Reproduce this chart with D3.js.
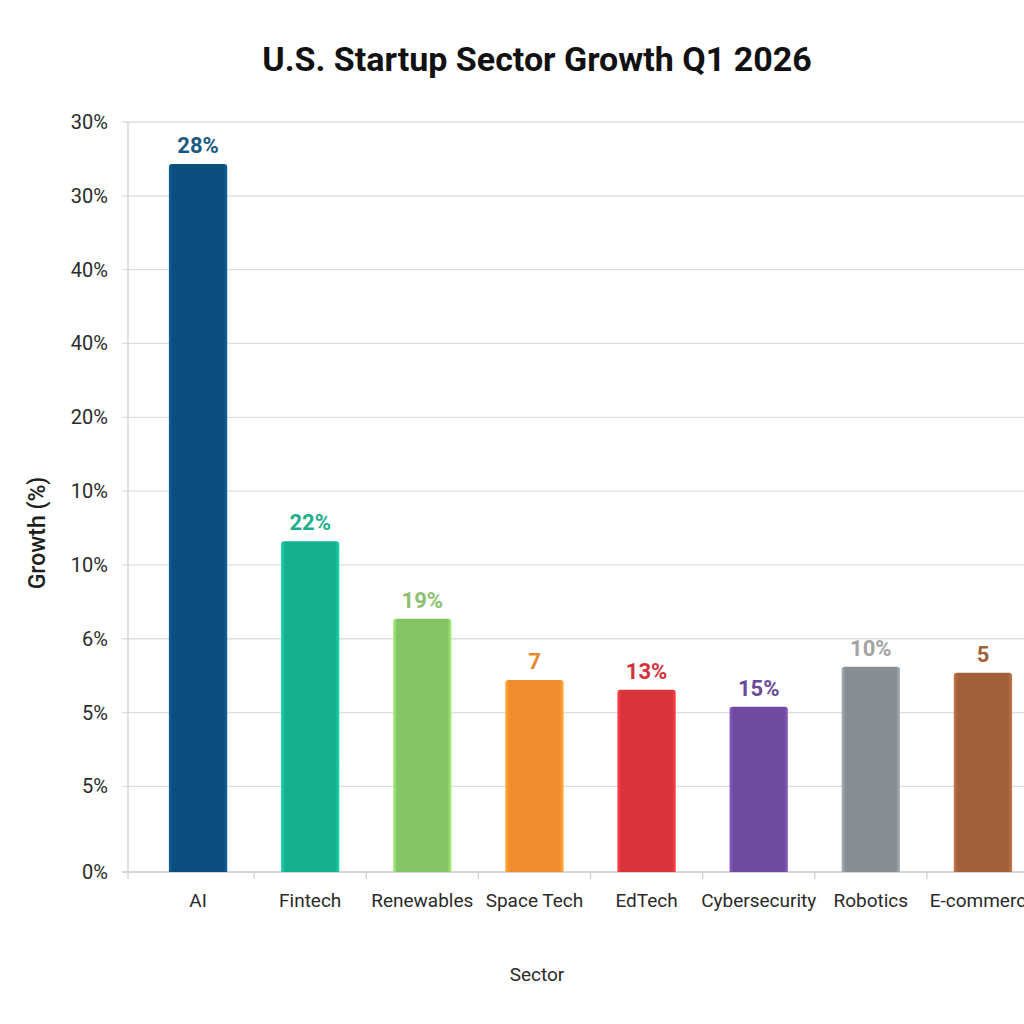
<!DOCTYPE html>
<html>
<head>
<meta charset="utf-8">
<script src="https://d3js.org/d3.v7.min.js"></script>
<style>
    html, body { margin: 0; padding: 0; background: #fff; }
    svg { display: block; font-family: Roboto, "Noto Sans", sans-serif; }
</style>
</head>
<body>
<svg width="1024" height="1024"></svg>
<script>
    // sectors and bar heights (in grid steps, as drawn)
    const sectors = ["AI", "Fintech", "Renewables", "Space Tech", "EdTech", "Cybersecurity", "Robotics", "E-commerce"];
    const heights = [9.59, 4.48, 3.43, 2.60, 2.47, 2.24, 2.78, 2.70];
    const barLabels = ["28%", "22%", "19%", "7", "13%", "15%", "10%", "5"];
    const barColors = ["#0a4f7d", "#14b08f", "#84c464", "#f08c2e", "#d9343a", "#6f4a9e", "#868e94", "#a0603a"];
    const labelColors = ["#1a5a82", "#1fae8c", "#8cc070", "#e98a30", "#d2323e", "#6a4a9a", "#a3a3a3", "#a0603a"];

    // y ticks: positions and the labels printed beside them
    const yTickValues = [0, 1.16, 2.16, 3.16, 4.16, 5.16, 6.16, 7.16, 8.16, 9.16, 10.16];
    const yTickLabels = ["0%", "5%", "5%", "6%", "10%", "10%", "20%", "40%", "40%", "30%", "30%"];

    const svg = d3.select("svg");
    const axisX = 128, plotTop = 122, baseline = 872;

    const y = d3.scaleLinear().domain([0, 10.16]).range([baseline, plotTop]);
    const x = d3.scaleBand().domain(sectors).range([142, 1039])
        .paddingInner(0.48).paddingOuter(0.24);

    // title
    svg.append("text")
        .attr("x", 537).attr("y", 71)
        .attr("text-anchor", "middle")
        .style("font-size", "34px").style("font-weight", "700")
        .attr("fill", "#111")
        .text("U.S. Startup Sector Growth Q1 2026");

    // gridlines + y tick labels
    const yg = svg.append("g");
    yTickValues.forEach(function (v, i) {
        yg.append("line")
            .attr("x1", axisX - 6).attr("x2", 1024)
            .attr("y1", y(v)).attr("y2", y(v))
            .attr("stroke", i === 0 ? "#c8c8c8" : "#dedede")
            .attr("stroke-width", 1.3);
        yg.append("text")
            .attr("x", 108).attr("y", y(v))
            .attr("dy", "0.35em")
            .attr("text-anchor", "end")
            .style("font-size", "20px")
            .attr("fill", "#2a2a2a")
            .text(yTickLabels[i]);
    });

    // y axis line
    svg.append("line")
        .attr("x1", axisX).attr("x2", axisX)
        .attr("y1", plotTop).attr("y2", baseline + 7)
        .attr("stroke", "#cfcfcf").attr("stroke-width", 1.3);

    // x tick marks between bands
    const step = x.step();
    sectors.slice(1).forEach(function (s) {
        const bx = x(s) - (step - x.bandwidth()) / 2;
        svg.append("line")
            .attr("x1", bx).attr("x2", bx)
            .attr("y1", baseline).attr("y2", baseline + 7)
            .attr("stroke", "#cfcfcf").attr("stroke-width", 1.3);
    });

    // gradients for bars (slightly lighter edges)
    const defs = svg.append("defs");
    barColors.forEach(function (c, i) {
        const edge = d3.color(c).brighter(0.6).formatHex();
        const gr = defs.append("linearGradient").attr("id", "g" + i)
            .attr("x1", "0").attr("x2", "1").attr("y1", "0").attr("y2", "0");
        gr.append("stop").attr("offset", "0").attr("stop-color", edge);
        gr.append("stop").attr("offset", "0.07").attr("stop-color", c);
        gr.append("stop").attr("offset", "0.93").attr("stop-color", c);
        gr.append("stop").attr("offset", "1").attr("stop-color", edge);
    });

    // bars
    svg.append("g").selectAll("path")
        .data(sectors)
        .enter()
        .append("path")
        .attr("d", function (d, i) {
            const x0 = x(d), w = x.bandwidth(), y0 = y(heights[i]), r = 3;
            return `M${x0},${baseline} V${y0 + r} Q${x0},${y0} ${x0 + r},${y0} H${x0 + w - r} Q${x0 + w},${y0} ${x0 + w},${y0 + r} V${baseline} Z`;
        })
        .attr("fill", function (d, i) { return "url(#g" + i + ")"; });

    // value labels
    svg.append("g").selectAll("text")
        .data(sectors)
        .enter()
        .append("text")
        .attr("x", function (d) { return x(d) + x.bandwidth() / 2; })
        .attr("y", function (d, i) { return y(heights[i]) - 11; })
        .attr("text-anchor", "middle")
        .style("font-size", "22px").style("font-weight", "700")
        .attr("fill", function (d, i) { return labelColors[i]; })
        .text(function (d, i) { return barLabels[i]; });

    // x tick labels
    svg.append("g").selectAll("text")
        .data(sectors)
        .enter()
        .append("text")
        .attr("x", function (d) { return x(d) + x.bandwidth() / 2; })
        .attr("y", 907)
        .attr("text-anchor", "middle")
        .style("font-size", "19px")
        .attr("fill", "#2a2a2a")
        .text(function (d) { return d; });

    // axis titles
    svg.append("text")
        .attr("x", 537).attr("y", 981)
        .attr("text-anchor", "middle")
        .style("font-size", "19px")
        .attr("fill", "#2a2a2a")
        .text("Sector");

    svg.append("text")
        .attr("transform", "translate(45,533) rotate(-90)")
        .attr("text-anchor", "middle")
        .style("font-size", "23px").style("font-weight", "500")
        .attr("fill", "#1e1e1e")
        .text("Growth (%)");
</script>
</body>
</html>
